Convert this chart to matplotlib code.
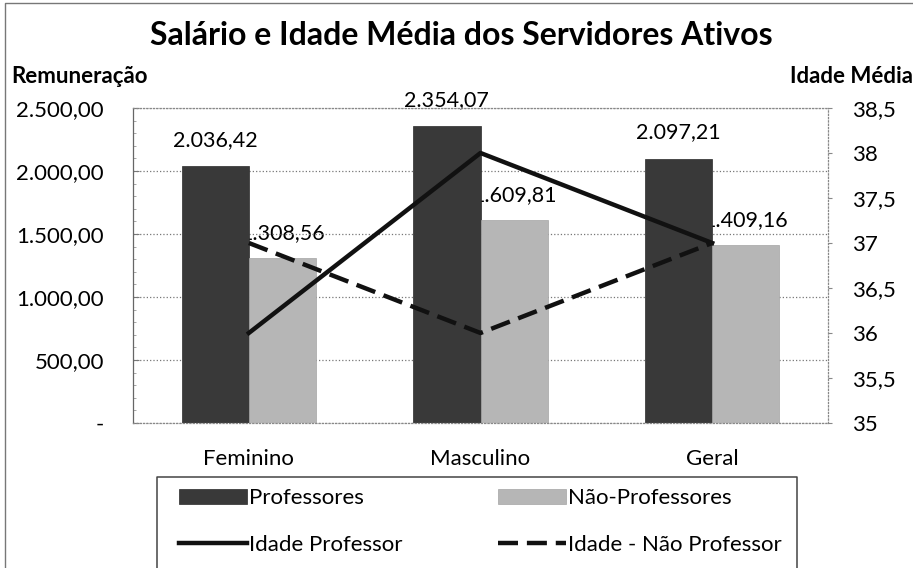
import numpy as np
import matplotlib.pyplot as plt
from matplotlib.lines import Line2D
from matplotlib.ticker import FuncFormatter, MultipleLocator

plt.rcParams['font.family'] = ['Lato', 'DejaVu Sans']

# data
categories = ["Feminino", "Masculino", "Geral"]
salario_prof = [2036.42, 2354.07, 2097.21]
salario_nao_prof = [1308.56, 1609.81, 1409.16]
idade_prof = [36, 38, 37]
idade_nao_prof = [37, 36, 37]

def br_fmt(v, pos=None):
    if v == 0:
        return "-"
    s = f"{v:,.2f}"
    return s.replace(",", "X").replace(".", ",").replace("X", ".")

fig = plt.figure(figsize=(9.13, 5.68), dpi=100)
ax = fig.add_axes([0.1457, 0.2553, 0.7612, 0.5546])
x = np.arange(len(categories))
w = 0.29

b1 = ax.bar(x - w / 2, salario_prof, w, color="#393939", edgecolor="#2a2a2a", linewidth=0.5, zorder=2)
b2 = ax.bar(x + w / 2, salario_nao_prof, w, color="#b6b6b6", edgecolor="#a4a4a4", linewidth=0.5, zorder=2)

# value labels (the light-bar ones sit partly behind the dark bars, as in the original)
for xi, v in zip(x - w / 2, salario_prof):
    ax.text(xi, v + 160, br_fmt(v), ha="center", va="baseline", fontsize=15.5, zorder=1)
for xi, v in zip(x + w / 2, salario_nao_prof):
    ax.text(xi, v + 150, br_fmt(v), ha="center", va="baseline", fontsize=15.5, zorder=1)

ax.set_xlim(-0.5, 2.5)
ax.set_ylim(0, 2500)
ax.yaxis.set_major_locator(MultipleLocator(500))
ax.yaxis.set_minor_locator(MultipleLocator(100))
ax.yaxis.set_major_formatter(FuncFormatter(br_fmt))
ax.set_xticks(x)
ax.set_xticklabels(categories, fontsize=16)
ax.tick_params(axis="x", length=0, pad=19)
ax.tick_params(axis="y", which="major", labelsize=16, length=4, direction="in", color="#777777", pad=21)
ax.tick_params(axis="y", which="minor", length=2.5, direction="in", color="#999999")
ax.grid(axis="y", linestyle=":", color="#777777", linewidth=0.9, zorder=0)
for sp in ax.spines.values():
    sp.set_color("#888888")
    sp.set_linestyle(":")
    sp.set_linewidth(0.9)
ax.spines["left"].set_linestyle("-")
ax.spines["left"].set_color("#666666")

ax2 = ax.twinx()
ax2.set_ylim(35, 38.5)
ax2.yaxis.set_major_locator(MultipleLocator(0.5))
ax2.yaxis.set_major_formatter(FuncFormatter(lambda v, p: f"{v:g}".replace(".", ",")))
ax2.tick_params(axis="y", labelsize=16, length=3, color="#888888", pad=14)
for sp in ax2.spines.values():
    sp.set_visible(False)
l1, = ax2.plot(x, idade_prof, color="#111111", linewidth=3.2, zorder=3)
l2, = ax2.plot(x, idade_nao_prof, color="#111111", linewidth=3.2, linestyle=(0, (4.5, 2)), zorder=3)

fig.text(0.505, 1 - 45 / 568, "Salário e Idade Média dos Servidores Ativos", ha="center", va="baseline",
         fontsize=23, fontweight="bold")
fig.text(0.012, 1 - 83 / 568, "Remuneração", ha="left", va="baseline", fontsize=16, fontweight="bold")
fig.text(0.9995, 1 - 83 / 568, "Idade Média", ha="right", va="baseline", fontsize=16, fontweight="bold")

# legend: two columns placed separately, frame drawn by hand (it runs off the bottom)
leg_kw = dict(loc="upper left", frameon=False, fontsize=16, handlelength=3.06, handleheight=0.65,
              handletextpad=0.08, labelspacing=1.2, borderpad=0, borderaxespad=0)
fig.legend([b1, l1], ["Professores", "Idade Professor"],
           bbox_to_anchor=(179 / 913, 1 - 488 / 568), **leg_kw)
fig.legend([b2, l2], ["Não-Professores", "Idade - Não Professor"],
           bbox_to_anchor=(498 / 913, 1 - 488 / 568), **leg_kw)

fig.add_artist(Line2D([157 / 913, 157 / 913, 797 / 913, 797 / 913],
                      [-0.05, 1 - 477 / 568, 1 - 477 / 568, -0.05],
                      transform=fig.transFigure, color="#444444", linewidth=1.1))
fig.add_artist(Line2D([5 / 913, 5 / 913, 1.0], [-0.05, 1 - 3 / 568, 1 - 3 / 568],
                      transform=fig.transFigure, color="#777777", linewidth=1))

fig.savefig("out.png", dpi=100)
